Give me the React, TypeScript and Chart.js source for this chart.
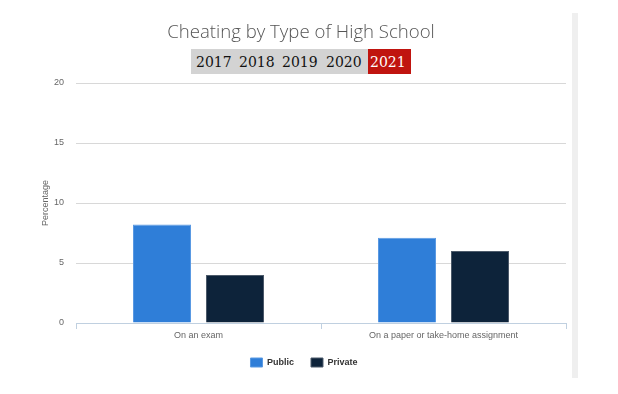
import React, { useEffect, useRef } from "react";
import { Chart, registerables } from "chart.js";

Chart.register(...registerables);

const categories = ["On an exam", "On a paper or take-home assignment"];
const publicValues = [8.2, 7.1];
const privateValues = [4.0, 6.0];
const seriesNames = ["Public", "Private"];
const yearButtons = ["2017", "2018", "2019", "2020", "2021"];
const chartTitle = "Cheating by Type of High School";
const yAxisTitle = "Percentage";

export default function App() {
  const canvasRef = useRef<HTMLCanvasElement | null>(null);

  useEffect(() => {
    const canvas = canvasRef.current;
    if (!canvas) return;
    const chart = new Chart(canvas, {
      type: "bar",
      data: {
        labels: categories,
        datasets: [
          {
            label: seriesNames[0],
            data: publicValues,
            backgroundColor: "#2f7ed8",
            borderColor: "#5b9ae3",
            borderWidth: 1,
          },
          {
            label: seriesNames[1],
            data: privateValues,
            backgroundColor: "#0d233a",
            borderColor: "#4d5b6b",
            borderWidth: 1,
          },
        ],
      },
      options: {
        responsive: false,
        animation: false,
        datasets: {
          bar: { categoryPercentage: 0.596, barPercentage: 0.795 },
        },
        layout: { padding: { top: 83, left: 0, right: 10, bottom: 17 } },
        plugins: {
          title: { display: false },
          tooltip: { enabled: false },
          legend: {
            display: true,
            position: "bottom",
            labels: {
              boxWidth: 12,
              boxHeight: 9,
              padding: 17,
              color: "#333",
              font: { family: "'Liberation Sans', Arial, sans-serif", size: 9, weight: "bold" },
            },
          },
        },
        scales: {
          x: {
            afterFit: (s: any) => {
              s.height = 18;
            },
            grid: {
              display: true,
              drawOnChartArea: false,
              drawTicks: true,
              tickLength: 6,
              color: "#c0d0e0",
              offset: true,
            },
            border: { display: true, color: "#c0d0e0" },
            ticks: {
              padding: 1,
              color: "#666",
              font: { family: "'Liberation Sans', Arial, sans-serif", size: 9 },
            },
          },
          y: {
            min: 0,
            max: 20,
            afterFit: (s: any) => {
              s.width = 76;
            },
            grid: { color: "#d8d8d8", drawTicks: false, lineWidth: 1 },
            border: { display: false },
            ticks: {
              stepSize: 5,
              padding: 12,
              color: "#666",
              font: { family: "'Liberation Sans', Arial, sans-serif", size: 9 },
            },
            title: {
              display: true,
              text: yAxisTitle,
              color: "#666",
              padding: { top: 40, bottom: 0 },
              font: { family: "'Liberation Sans', Arial, sans-serif", size: 9 },
            },
          },
          yRight: {
            type: "linear",
            position: "right",
            display: true,
            afterFit: (s: any) => {
              s.width = 42;
            },
            grid: { drawOnChartArea: false, drawTicks: false, display: false },
            border: { display: false },
            ticks: { display: false },
          },
        },
      },
    });
    return () => chart.destroy();
  }, []);

  const yearLeft = [196, 239, 282, 326, 370];

  return (
    <div
      style={{
        position: "fixed",
        left: 0,
        top: 0,
        width: 618,
        height: 394,
        background: "#fff",
        overflow: "hidden",
      }}
    >
      <canvas
        ref={canvasRef}
        width={618}
        height={394}
        style={{ position: "absolute", left: 0, top: 0, width: 618, height: 394 }}
      />
      <div
        style={{
          position: "absolute",
          left: 0,
          width: 602,
          top: 18,
          textAlign: "center",
          fontFamily: "'Open Sans', sans-serif",
          fontWeight: 300,
          fontSize: 18.6,
          color: "#555",
          lineHeight: "26px",
          whiteSpace: "nowrap",
        }}
      >
        {chartTitle}
      </div>
      <div
        style={{
          position: "absolute",
          left: 191,
          top: 49,
          width: 177,
          height: 25,
          background: "#d3d3d3",
        }}
      />
      <div
        style={{
          position: "absolute",
          left: 368,
          top: 49,
          width: 43,
          height: 25,
          background: "#c0140f",
        }}
      />
      {yearButtons.map((y, i) => (
        <div
          key={y}
          style={{
            position: "absolute",
            left: yearLeft[i],
            top: 49,
            height: 25,
            lineHeight: "27px",
            fontFamily: "'DejaVu Serif', serif",
            fontSize: 14,
            color: i === yearButtons.length - 1 ? "#fff" : "#111",
            whiteSpace: "nowrap",
          }}
        >
          {y}
        </div>
      ))}
      <div
        style={{
          position: "absolute",
          left: 572,
          top: 13,
          width: 6,
          height: 365,
          background: "#efefef",
        }}
      />
    </div>
  );
}
